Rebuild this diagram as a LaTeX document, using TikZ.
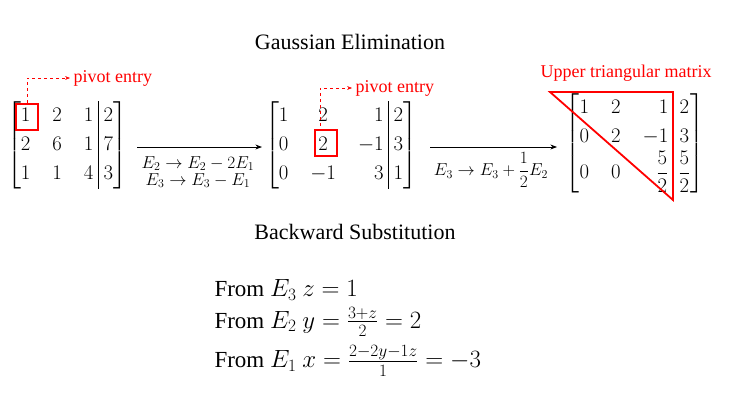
\documentclass[tikz,border=0pt]{standalone}
\usepackage{amsmath}
\usepackage{fontspec}
\setmainfont{Liberation Serif}
\usetikzlibrary{arrows.meta,positioning}

\begin{document}
\begin{tikzpicture}[
    x=1pt, y=-1pt,
    >=Stealth,
    %–––– STYLES ––––
    title/.style  = {font=\fontsize{22}{26}\selectfont},
    mat/.style    = {inner sep=0pt, font=\fontsize{22}{26}\selectfont},
    oplabel/.style= {font=\fontsize{17}{17}\selectfont, align=center},
    pivot/.style  = {draw=red, line width=2.2pt, minimum width=22pt, minimum height=26pt, inner sep=0pt},
    note/.style   = {text=red, font=\fontsize{18}{20}\selectfont},
    leader/.style = {->, red, dashed, thin},
    rowop/.style  = {->, thick},
    eqn/.style    = {anchor=west, font=\fontsize{23}{26}\selectfont},
]
\useasboundingbox (0,0) rectangle (743,413);

%–––– TITLES ––––
\node (gauss) [title] at (350,42) {Gaussian Elimination};
\node (back)  [title] at (355,232) {Backward Substitution};

%–––– MATRICES ––––
\renewcommand{\arraystretch}{1.12}
\node (m1) [mat] at (67,145) {$\left[\begin{array}{@{}c@{\quad}c@{\quad}c|c@{}}1&2&1&2\\2&6&1&7\\1&1&4&3\end{array}\right]$};
\node (m2) [mat] at (341,145) {$\left[\begin{array}{@{}c@{\quad}c@{\quad}r|c@{}}1&2&1&2\\0&2&-1&3\\0&-1&3&1\end{array}\right]$};
\node (m3) [mat] at (635,143) {$\left[\begin{array}{@{}c@{\quad}c@{\quad}r|c@{}}1&2&1&2\\0&2&-1&3\\0&0&\dfrac{5}{2}&\dfrac{5}{2}\end{array}\right]$};

%–––– ROW OPERATIONS ––––
\draw[rowop] (137,147) coordinate (s1) -- (262,147) coordinate (e1);
\draw[rowop] (430,147) coordinate (s2) -- (557,147) coordinate (e2);
\node (op1) [oplabel] at (198,172) {$E_2\to E_2-2E_1$\\$E_3\to E_3-E_1$};
\node (op2) [oplabel] at (491,170) {$E_3\to E_3+\dfrac{1}{2}E_2$};

%–––– PIVOTS ----
\node (piv1) [pivot] at (27,117) {};
\node (piv2) [pivot] at (326,143) {};
\node (pn1) [note, anchor=west] at (70,78) {pivot entry};
\node (pn2) [note, anchor=west] at (352,88) {pivot entry};
\draw[leader] (piv1.north) |- (pn1.west);
\draw[leader] (piv2.north) ++(-6,-3) |- (pn2.west);

%–––– UPPER TRIANGLE ––––
\coordinate (t1) at (550,92);
\coordinate (t2) at (673,92);
\coordinate (t3) at (673,200);
\draw[red, line width=1.8pt] (t1) -- (t2) -- (t3) -- cycle;
\node (tri) [note] at (626,73) {Upper triangular matrix};

%–––– BACK SUBSTITUTION ––––
\node (eq3) [eqn] at (211,290) {From $E_3\ z=1$};
\node (eq2) [eqn] at (211,322) {From $E_2\ y=\frac{3+z}{2}=2$};
\node (eq1) [eqn] at (211,361) {From $E_1\ x=\frac{2-2y-1z}{1}=-3$};
\end{tikzpicture}
\end{document}
